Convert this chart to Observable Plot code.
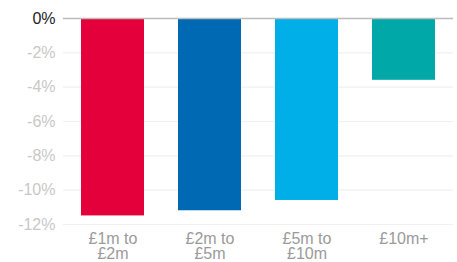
<!DOCTYPE html>
<html><head><meta charset="utf-8">
<script src="https://cdn.jsdelivr.net/npm/d3@7"></script>
<script src="https://cdn.jsdelivr.net/npm/@observablehq/plot@0.6"></script>
<style>
body{margin:0;background:#fff;}
svg{font-family:"Liberation Sans",Arial,sans-serif;}
</style></head>
<body><div id="chart"></div>
<script>
const categories = ["£1m to £2m", "£2m to £5m", "£5m to £10m", "£10m+"];
const values = [-11.5, -11.2, -10.6, -3.6];
const colors = ["#e4003b", "#0069b4", "#00aee8", "#00a8a8"];
const gridTicks = [-2, -4, -6, -8, -10, -12];

const data = categories.map((c, i) => ({cat: c, value: values[i], color: colors[i]}));

const chart = Plot.plot({
  width: 457,
  height: 262,
  marginTop: 18,
  marginBottom: 38,
  marginLeft: 63,
  marginRight: 4,
  x: {domain: categories, paddingInner: 0.355, paddingOuter: 0.1775, label: null},
  y: {domain: [-12, 0], label: null},
  marks: [
    Plot.gridY(gridTicks, {stroke: "#f0f0f0", strokeOpacity: 1, strokeWidth: 1.2}),
    Plot.barY(data, {x: "cat", y: "value", fill: "color"}),
    Plot.ruleY([0], {stroke: "#bbbbbb", strokeWidth: 1.5}),
    Plot.axisY(gridTicks, {tickSize: 0, tickPadding: 8, fontSize: 16, fill: "#c8c8c8", tickFormat: d => d + "%"}),
    Plot.axisY([0], {tickSize: 0, tickPadding: 8, fontSize: 16, fill: "#222", tickFormat: d => d + "%"}),
    Plot.axisX({tickSize: 0, tickPadding: 8, fontSize: 16, fill: "#9a9a9a", lineHeight: 0.97,
      tickFormat: d => d.replace(" to ", " to\n")})
  ]
});
document.getElementById("chart").appendChild(chart);
</script>
</body></html>
